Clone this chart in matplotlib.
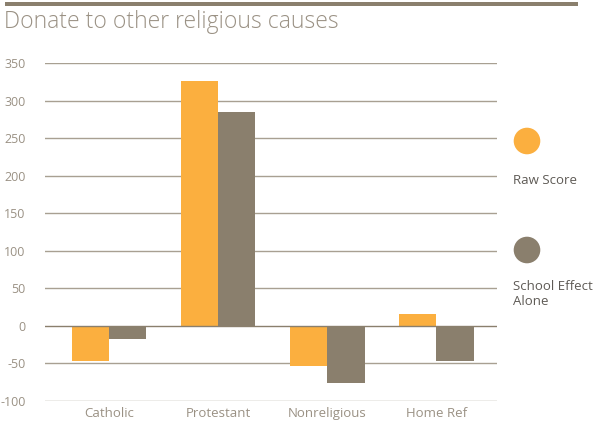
import matplotlib
matplotlib.use("Agg")
import matplotlib.pyplot as plt
from matplotlib.patches import Circle, Rectangle
import numpy as np

categories = ["Catholic", "Protestant", "Nonreligious", "Home Ref"]
raw_score = [-47, 326, -54, 16]
school_effect = [-17, 285, -76, -47]
series_names = ["Raw Score", "School Effect\nAlone"]
yticks = [-100, -50, 0, 50, 100, 150, 200, 250, 300, 350]

ORANGE = "#FBAF3F"
TAUPE = "#8A7F6D"
GRID = "#A8A092"
TXT = "#9A9184"

plt.rcParams['font.family'] = ['Open Sans', 'DejaVu Sans']

W, H = 595, 421
fig = plt.figure(figsize=(W/100, H/100), dpi=100)

def fx(px): return px / W
def fy(py): return 1 - py / H

# top bar
fig.add_artist(Rectangle((fx(5), fy(6)), fx(578) - fx(5), fy(2) - fy(6),
                         transform=fig.transFigure, color=TAUPE, lw=0))
fig.text(fx(4), fy(22), "Donate to other religious causes", fontsize=16.5,
         color=TXT, fontweight='light', va='center', ha='left')

ax_left, ax_right = 45, 497
ax_top, ax_bot = 63, 401
ax = fig.add_axes([fx(ax_left), fy(ax_bot), fx(ax_right) - fx(ax_left), fy(ax_top) - fy(ax_bot)])

x = np.arange(len(categories))
bw = 0.34
ax.bar(x - bw/2, raw_score, bw, color=ORANGE, zorder=3, lw=0)
ax.bar(x + bw/2, school_effect, bw, color=TAUPE, zorder=3, lw=0)

ax.set_ylim(-100, 350)
ax.set_xlim(-0.59, 3.555)
ax.set_yticks(yticks)
ax.set_yticklabels([str(v) for v in yticks])
for v in yticks:
    ax.axhline(v, color=(TAUPE if v == 0 else GRID), lw=1.0, zorder=(4 if v == 0 else 1))
for s in ax.spines.values():
    s.set_visible(False)
ax.tick_params(axis='y', length=0, pad=14, labelsize=9, labelcolor=TXT)
ax.tick_params(axis='x', length=0, pad=4, labelsize=9.5, labelcolor=TXT)
ax.set_xticks(x)
ax.set_xticklabels(categories)
ax.grid(False)

# legend
for cy, col, name, ty in [(141, ORANGE, series_names[0], 180), (250, TAUPE, series_names[1], 294)]:
    ax_c = fig.add_axes([fx(513), fy(cy + 14), fx(28), fy(0) - fy(28)])
    ax_c.set_xlim(-1, 1); ax_c.set_ylim(-1, 1); ax_c.set_aspect('equal'); ax_c.axis('off')
    ax_c.add_patch(Circle((0, 0), 0.95, color=col, lw=0))
    fig.text(fx(513), fy(ty), name, fontsize=9.5, color="#5E5A55", va='center', ha='left', linespacing=1.2)

fig.savefig("out.png", dpi=100)
